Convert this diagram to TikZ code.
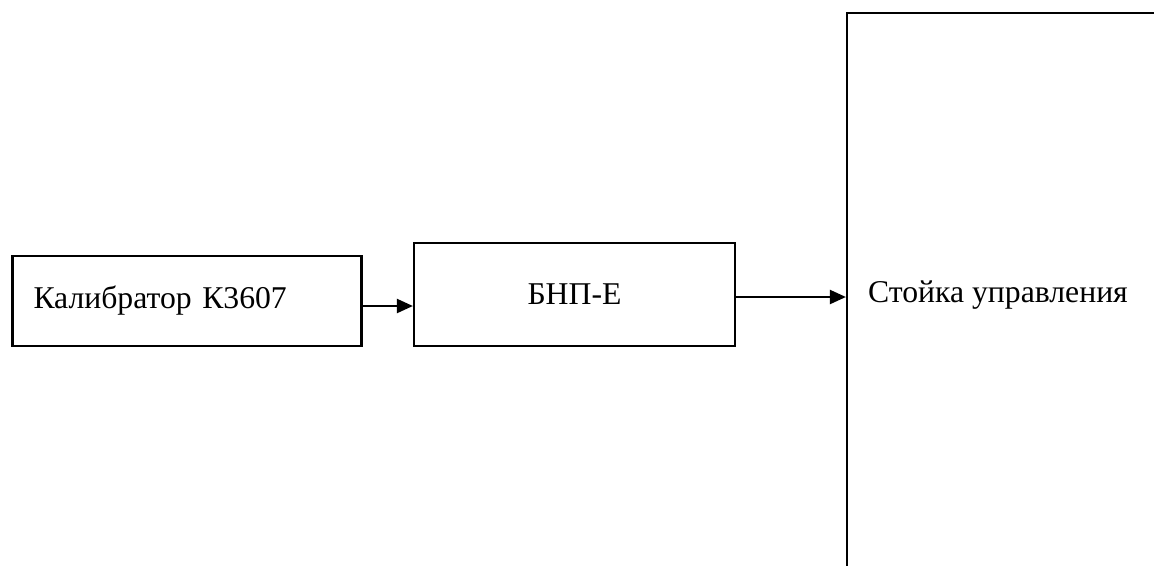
\documentclass[tikz,border=0pt]{standalone}
\usepackage{fontspec}
\setmainfont{Liberation Serif}
\usetikzlibrary{arrows.meta}
\begin{document}
\begin{tikzpicture}[x=1pt,y=-1pt,
  blk/.style={draw=black,line width=2.2pt,inner sep=0pt,font=\fontsize{31.7}{36}\selectfont},
  lbl/.style={inner sep=0pt,font=\fontsize{31.7}{36}\selectfont},
  arr/.style={line width=2.2pt,-{Triangle[length=16pt,width=14pt]}}]
\useasboundingbox (0,0) rectangle (1154,565);
\clip (0,0) rectangle (1154,565);
\node[blk,minimum width=349pt,minimum height=90pt,text width=307pt,align=left] (kal) at (187,301) {Калибратор К3607};
\node[blk,minimum width=321pt,minimum height=103pt] (bnp) at (574.5,294.5) {БНП-Е};
\node[blk,minimum width=323pt,minimum height=567pt] (st) at (1008.5,296.5) {};
\node[lbl,anchor=base west] (sttext) at (868,302) {Стойка управления};
\draw[arr] ([yshift=-5pt]kal.east) -- ([yshift=-5pt]kal.east -| bnp.west);
\draw[arr] ([yshift=-2.5pt]bnp.east) -- ([yshift=-2.5pt]bnp.east -| st.west);
\end{tikzpicture}
\end{document}
